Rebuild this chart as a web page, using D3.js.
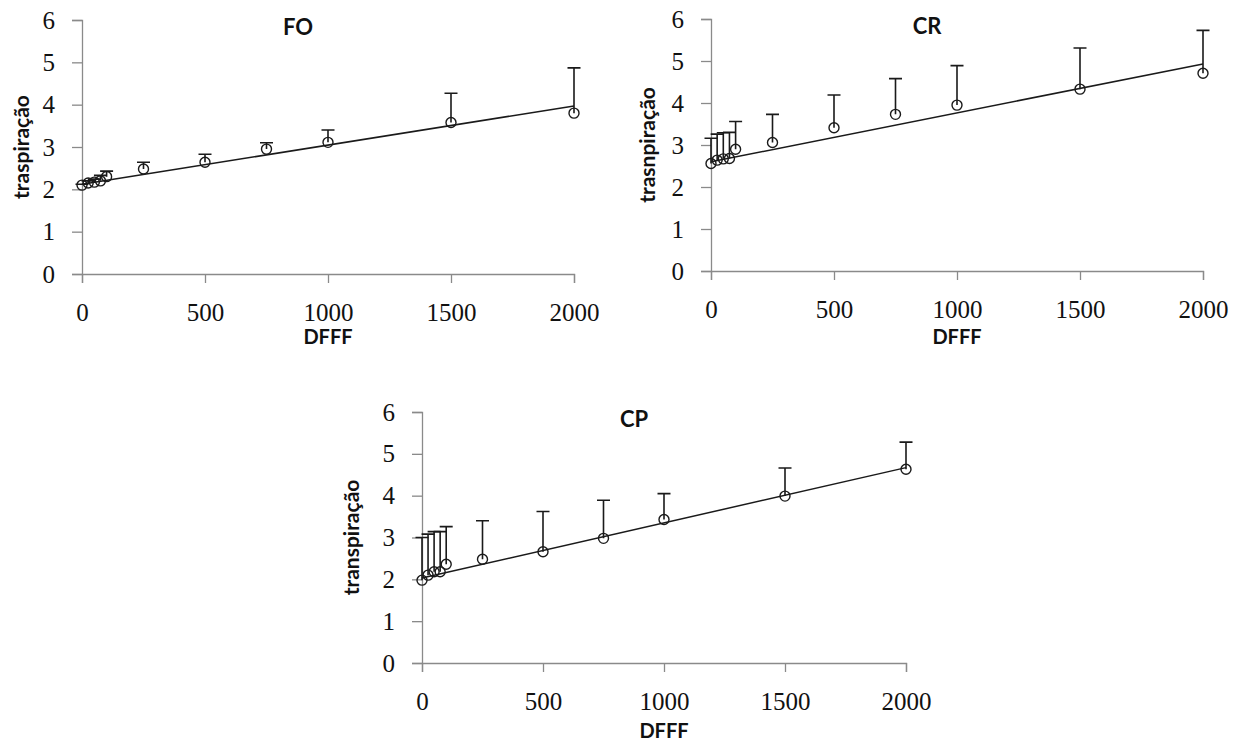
<!DOCTYPE html>
<html>
<head>
<meta charset="utf-8">
<title>transpiração x DFFF</title>
<script src="https://d3js.org/d3.v7.min.js"></script>
<style>
  body { margin: 0; background: #fff; }
  .tick text { font-family: "Liberation Serif", serif; font-size: 25px; fill: #111; }
  .axis path, .axis line { stroke: #8a8a8a; stroke-width: 1.3; }
  .lbl { font-family: Lato, "Open Sans", sans-serif; font-weight: bold; fill: #111; }
</style>
</head>
<body>
<svg width="1245" height="742"></svg>
<script>
// DFFF levels (x) shared by all panels
const dfff = [0, 25, 50, 75, 100, 250, 500, 750, 1000, 1500, 2000];

// FO
const foMean = [2.10, 2.15, 2.17, 2.20, 2.30, 2.48, 2.64, 2.95, 3.11, 3.58, 3.80];
const foTop  = [2.12, 2.20, 2.24, 2.33, 2.43, 2.64, 2.83, 3.10, 3.40, 4.27, 4.87];
const foFit  = [2.12, 3.97];

// CR
const crMean = [2.56, 2.64, 2.67, 2.68, 2.90, 3.06, 3.41, 3.73, 3.95, 4.33, 4.71];
const crTop  = [3.16, 3.26, 3.29, 3.30, 3.56, 3.73, 4.19, 4.58, 4.89, 5.31, 5.73];
const crFit  = [2.60, 4.93];

// CP
const cpMean = [1.98, 2.10, 2.18, 2.18, 2.36, 2.48, 2.66, 2.98, 3.43, 3.99, 4.63];
const cpTop  = [3.00, 3.08, 3.14, 3.14, 3.26, 3.40, 3.62, 3.89, 4.05, 4.66, 5.28];
const cpFit  = [2.03, 4.67];

const xTicks = [0, 500, 1000, 1500, 2000];
const yTicks = [0, 1, 2, 3, 4, 5, 6];

// layout of the three panels (pixels)
const panels = [
  { title: "FO", ylab: "traspiração",  mean: foMean, top: foTop, fit: foFit,
    x0: 82,  x1: 574,  yT: 20,  yB: 274, ylx: 22, dfy: 70 },
  { title: "CR", ylab: "trasnpiração", mean: crMean, top: crTop, fit: crFit,
    x0: 711, x1: 1203, yT: 19,  yB: 271, ylx: 648, dfy: 73 },
  { title: "CP", ylab: "transpiração", mean: cpMean, top: cpTop, fit: cpFit,
    x0: 422, x1: 906,  yT: 412, yB: 663, ylx: 352, dfy: 75 }
];

const svg = d3.select("svg");

panels.forEach(p => {
  const x = d3.scaleLinear().domain([0, 2000]).range([p.x0, p.x1]);
  const y = d3.scaleLinear().domain([0, 6]).range([p.yB, p.yT]);
  const g = svg.append("g");

  // axes
  g.append("g").attr("class", "axis")
    .attr("transform", `translate(0,${p.yB})`)
    .call(d3.axisBottom(x).tickValues(xTicks).tickFormat(d3.format("d"))
      .tickSizeOuter(0).tickSize(9).tickPadding(20));
  g.append("g").attr("class", "axis")
    .attr("transform", `translate(${p.x0},0)`)
    .call(d3.axisLeft(y).tickValues(yTicks).tickFormat(d3.format("d"))
      .tickSizeOuter(0).tickSize(10).tickPadding(17));

  // trend line
  g.append("line")
    .attr("x1", x(0)).attr("y1", y(p.fit[0]))
    .attr("x2", x(2000)).attr("y2", y(p.fit[1]))
    .attr("stroke", "#1a1a1a").attr("stroke-width", 1.5);

  const pts = dfff.map((d, i) => ({ d, m: p.mean[i], t: p.top[i] }));

  // error bars (upper only)
  g.selectAll(".eb").data(pts).enter().append("path")
    .attr("class", "eb")
    .attr("d", q => `M${x(q.d)},${y(q.m)}V${y(q.t)}M${x(q.d) - 6.5},${y(q.t)}H${x(q.d) + 6.5}`)
    .attr("stroke", "#1a1a1a").attr("stroke-width", 1.6).attr("fill", "none");

  // points
  g.selectAll(".pt").data(pts).enter().append("circle")
    .attr("class", "pt")
    .attr("cx", q => x(q.d)).attr("cy", q => y(q.m)).attr("r", 5)
    .attr("fill", "none").attr("stroke", "#1a1a1a").attr("stroke-width", 1.4);

  // labels
  const cx = (p.x0 + p.x1) / 2;
  g.append("text").attr("class", "lbl")
    .attr("x", cx - 30).attr("y", p.yT + 15)
    .attr("text-anchor", "middle").style("font-size", "22px")
    .text(p.title);
  g.append("text").attr("class", "lbl")
    .attr("x", cx).attr("y", p.yB + p.dfy)
    .attr("text-anchor", "middle").style("font-size", "20px")
    .text("DFFF");
  g.append("text").attr("class", "lbl")
    .attr("transform", `translate(${p.ylx + 7},${(p.yT + p.yB) / 2}) rotate(-90)`)
    .attr("text-anchor", "middle").style("font-size", "21px")
    .text(p.ylab);
});
</script>
</body>
</html>
